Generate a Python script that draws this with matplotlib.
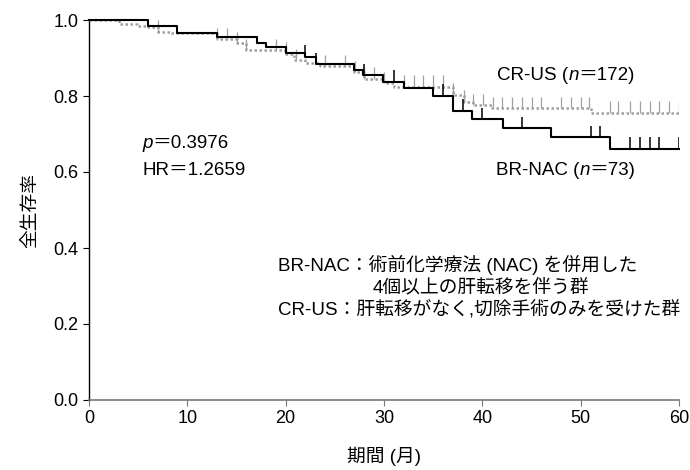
import numpy as np
import matplotlib
matplotlib.use("Agg")
import matplotlib.pyplot as plt
from matplotlib.offsetbox import TextArea, HPacker, AnnotationBbox

plt.rcParams['font.family'] = ['Liberation Sans', 'Noto Sans CJK JP', 'DejaVu Sans']

# BR-NAC (n=73): step times (months) and survival
nac_t = [0, 6.0, 8.9, 13.0, 17.1, 18.0, 20.0, 22.0, 23.1, 26.9, 27.9, 29.9,
         32.0, 35.0, 37.0, 38.9, 42.1, 47.0, 53.0, 60]
nac_s = [1.0, 0.984, 0.967, 0.955, 0.940, 0.928, 0.914, 0.903, 0.884, 0.868,
         0.855, 0.838, 0.820, 0.801, 0.761, 0.739, 0.715, 0.691, 0.661, 0.661]
nac_cens = [22.0, 23.1, 28.0, 31.0, 36.0, 38.0, 40.0, 44.0, 51.0, 52.0,
            55.0, 56.0, 57.0, 58.0, 60.0]

# CR-US (n=172)
us_t = [0, 3.0, 4.9, 6.0, 7.0, 8.2, 13.0, 15.0, 16.0, 19.9, 20.8, 22.0, 23.5,
        26.9, 28.0, 30.0, 31.0, 37.0, 38.1, 39.1, 41.0, 51.0, 60]
us_s = [1.0, 0.989, 0.984, 0.981, 0.969, 0.965, 0.949, 0.939, 0.921, 0.911,
        0.895, 0.886, 0.879, 0.862, 0.846, 0.833, 0.825, 0.803, 0.785, 0.776,
        0.768, 0.756, 0.756]
us_cens = [7.0, 13.0, 14.0, 15.0, 16.0, 19.0, 20.0, 21.0, 24.0, 26.0, 27.0,
           28.0, 29.0, 30.0, 32.0, 33.0, 34.0, 35.0, 36.0, 37.0, 38.1, 39.1,
           40.1, 41.1, 42.0, 43.0, 44.0, 45.0, 46.0, 48.0, 49.0, 50.0, 50.8,
           53.0, 53.8, 55.0, 56.0, 57.0, 58.0, 59.0, 60.0]

x_ticks = [0, 10, 20, 30, 40, 50, 60]
y_ticks = [0.0, 0.2, 0.4, 0.6, 0.8, 1.0]


def surv_at(times, surv, pts):
    idx = np.searchsorted(times, pts, side='right') - 1
    return np.asarray(surv)[idx]


def rich_text(ax, x, y, parts, fs):
    # parts: list of (text, italic?)
    kids = [TextArea(s, textprops=dict(fontsize=fs, fontstyle='italic' if it else 'normal'))
            for s, it in parts]
    box = HPacker(children=kids, pad=0, sep=0, align='baseline')
    ab = AnnotationBbox(box, (x, y), xycoords=ax.transAxes, box_alignment=(0, 0.5),
                        frameon=False, pad=0)
    ax.add_artist(ab)


fig = plt.figure(figsize=(6.9, 4.7), dpi=100)
ax = fig.add_axes([89 / 690, 1 - 400 / 470, 590 / 690, 380 / 470])

gray = '#a0a0a0'
ax.plot(us_t, us_s, drawstyle='steps-post', color=gray, lw=1.8,
        linestyle=(0, (1, 1)), clip_on=False, zorder=3)
ax.plot(nac_t, nac_s, drawstyle='steps-post', color='black', lw=1.5,
        clip_on=False, zorder=4)

# censor marks
us_y = surv_at(us_t, us_s, us_cens)
ax.vlines(us_cens, us_y, us_y + 0.03, color=gray, lw=0.9, zorder=3)
nac_y = surv_at(nac_t, nac_s, nac_cens)
ax.vlines(nac_cens, nac_y, nac_y + 0.03, color='black', lw=1.1, zorder=4)

ax.set_xlim(0, 60)
ax.set_ylim(0, 1.0)
ax.set_xticks(x_ticks)
ax.set_yticks(y_ticks)
ax.set_yticklabels([f"{v:.1f}" for v in y_ticks])
ax.tick_params(labelsize=13, length=4)
ax.tick_params(axis='x', colors='#777777', labelcolor='black')
for s in ['top', 'right']:
    ax.spines[s].set_visible(False)
ax.spines['bottom'].set_color('#777777')
ax.spines['bottom'].set_linewidth(1.2)
ax.spines['left'].set_linewidth(1.0)

ax.set_xlabel('期間 (月)', fontsize=13.5, labelpad=14)
ax.set_ylabel('全生存率', fontsize=13.5, labelpad=10)

fs = 13.5
rich_text(ax, 0.692, 0.855, [('CR-US (', False), ('n', True), ('＝172)', False)], fs)
rich_text(ax, 0.690, 0.605, [('BR-NAC (', False), ('n', True), ('＝73)', False)], fs)
rich_text(ax, 0.09, 0.675, [('p', True), ('＝0.3976', False)], fs)
ax.text(0.09, 0.605, 'HR＝1.2659', transform=ax.transAxes, fontsize=fs, va='center')

ax.text(0.320, 0.355, 'BR-NAC：術前化学療法 (NAC) を併用した', transform=ax.transAxes, fontsize=fs, va='center')
ax.text(0.481, 0.297, '4個以上の肝転移を伴う群', transform=ax.transAxes, fontsize=fs, va='center')
ax.text(0.320, 0.239, 'CR-US：肝転移がなく,切除手術のみを受けた群', transform=ax.transAxes, fontsize=fs, va='center')

fig.savefig('out.png', dpi=100)
